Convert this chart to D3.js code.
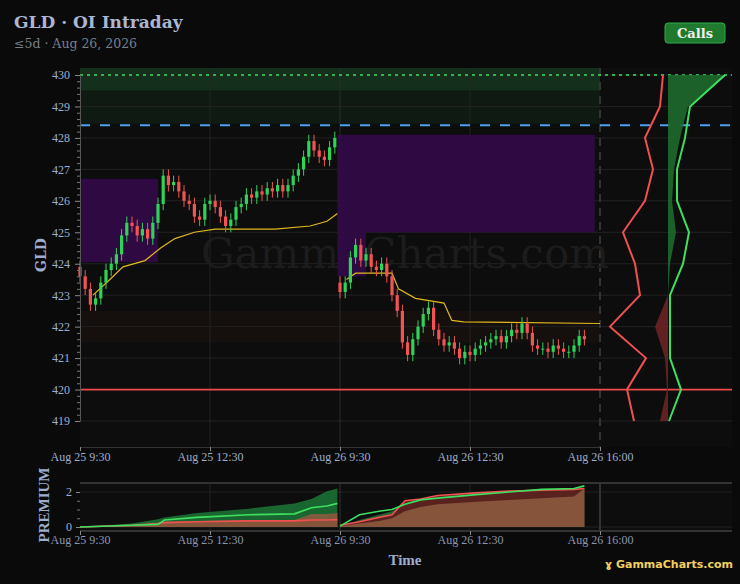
<!DOCTYPE html>
<html><head><meta charset="utf-8">
<script src="https://cdn.jsdelivr.net/npm/d3@7"></script>
<style>body{margin:0;background:#0a0a0a}svg{display:block}</style>
</head><body><svg id="c" width="740" height="584"></svg>
<script>
const timeTicks=["Aug 25 9:30","Aug 25 12:30","Aug 26 9:30","Aug 26 12:30","Aug 26 16:00"];
const priceTicks=[419,420,421,422,423,424,425,426,427,428,429,430];
const day1Open=423.9, day1Start=0, day2Open=423.4, day2Start=2.0, step=0.04;
const day1Close=[423.6,423.2,422.7,422.9,423.4,423.8,424.0,424.3,424.9,425.3,425.2,424.9,425.1,424.8,425.3,425.9,426.8,426.5,426.6,426.3,426.0,425.9,425.5,425.4,425.9,426.0,425.8,425.5,425.2,425.4,425.8,425.9,426.2,426.1,426.3,426.2,426.4,426.3,426.5,426.3,426.5,426.8,427.0,427.4,427.9,427.6,427.4,427.3,427.7,428.0];
const day2Close=[423.1,423.4,424.2,424.6,424.1,424.3,423.9,423.8,424.0,423.6,423.0,422.5,421.5,421.1,421.6,422.0,422.4,422.6,421.9,421.6,421.4,421.5,421.3,421.0,421.2,421.1,421.3,421.4,421.5,421.6,421.7,421.5,421.7,421.9,421.8,422.1,421.8,421.4,421.3,421.3,421.2,421.4,421.3,421.2,421.2,421.4,421.7,421.6];
const vwap1=[[0.1,423.0],[0.23,423.5],[0.33,423.9],[0.5,424.1],[0.62,424.5],[0.73,424.8],[0.88,425.0],[1.04,425.1],[1.5,425.1],[1.77,425.2],[1.9,425.35],[1.98,425.6]];
const vwap2=[[2.05,423.5],[2.12,423.7],[2.4,423.7],[2.45,423.2],[2.58,422.9],[2.8,422.75],[2.86,422.2],[2.95,422.15],[4.0,422.1]];
const zones=[[0,0.6,424.05,426.7],[1.98,3.96,425.0,428.1],[1.98,2.2,423.6,425.0]];
const profPrice=[430,429,428,427,426,425,424,423,422,421,420,419];
const putsOI=[-5,-8,-23,-15,-23,-45,-33,-28,-58,-22,-41,-34];
const callsOI=[57,22,17,9,9,21,15,2,2,2,13,1];
const netOI=[57,20,12,6,4,8,2,0,-13,-3,-1,-8];
const premT=[0,0.4,0.6,0.65,0.9,1.3,1.65,1.78,1.9,1.98];
const premCallsArea=[0,0.2,0.45,0.55,0.8,1.05,1.35,1.6,2.05,2.2];
const premCalls=[0,0.1,0.15,0.4,0.55,0.7,0.75,1.1,1.2,1.35];
const premPuts=[0,0.1,0.2,0.25,0.3,0.35,0.35,0.4,0.4,0.42];
const premNet=[0,0.1,0.25,0.3,0.35,0.38,0.4,0.75,0.75,0.8];
const prem2T=[2.0,2.15,2.3,2.4,2.5,2.62,2.75,3.05,3.3,3.55,3.8,3.88];
const prem2CallsArea=[0,0.4,0.7,0.9,1.3,1.5,1.6,1.8,2.0,2.1,2.15,2.2];
const prem2Calls=[0.05,0.7,0.9,1.0,1.3,1.55,1.65,1.85,2.0,2.15,2.2,2.35];
const prem2Puts=[0.1,0.3,0.55,0.7,1.5,1.6,1.8,1.95,2.05,2.1,2.15,2.2];
const prem2Net=[0.05,0.2,0.35,0.5,0.9,1.15,1.3,1.45,1.55,1.65,1.75,2.2];

const svg=d3.select("#c");
const W=740,H=584;
svg.append("rect").attr("width",W).attr("height",H).attr("fill","#0a0a0a");
const x=d3.scaleLinear().domain([0,4]).range([80,600]);
const y=d3.scaleLinear().domain([419,430]).range([421,75]);
const px=d3.scaleLinear().domain([-60,60]).range([608,728]);
const TOP=68,BOT=447,L=80,R=732;
const serif="'Liberation Serif',serif";
svg.append("rect").attr("x",L).attr("y",TOP).attr("width",R-L).attr("height",BOT-TOP).attr("fill","#0d0d0d");
svg.append("rect").attr("x",L).attr("y",TOP).attr("width",600-L).attr("height",y(429.5)-TOP).attr("fill","#14301c");
svg.append("rect").attr("x",L).attr("y",y(429.5)).attr("width",600-L).attr("height",y(428.45)-y(429.5)).attr("fill","#0f1a12");
svg.append("rect").attr("x",L).attr("y",y(422.5)).attr("width",600-L).attr("height",y(421.5)-y(422.5)).attr("fill","#150f0e");
priceTicks.forEach(p=>svg.append("line").attr("x1",L).attr("x2",R).attr("y1",y(p)).attr("y2",y(p)).attr("stroke","#222").attr("stroke-width",1));
[1,3].forEach(t=>svg.append("line").attr("x1",x(t)).attr("x2",x(t)).attr("y1",TOP).attr("y2",BOT).attr("stroke","#222"));
svg.append("line").attr("x1",x(2)).attr("x2",x(2)).attr("y1",TOP).attr("y2",BOT).attr("stroke","#2a2a2a");
svg.append("line").attr("x1",x(4)).attr("x2",x(4)).attr("y1",TOP).attr("y2",BOT).attr("stroke","#333").attr("stroke-width",2).attr("stroke-dasharray","8,6");
svg.append("text").attr("x",405).attr("y",268).attr("text-anchor","middle").attr("font-family","'DejaVu Serif',serif").attr("font-size",42).attr("fill","#1c1c1c").text("GammaCharts.com");
zones.forEach(z=>svg.append("rect").attr("x",x(z[0])).attr("width",x(z[1])-x(z[0])).attr("y",y(z[3])).attr("height",y(z[2])-y(z[3])).attr("fill","#310a45").attr("opacity",0.95));
const vl=d3.line().x(d=>x(d[0])).y(d=>y(d[1]));
[vwap1,vwap2].forEach(v=>svg.append("path").attr("d",vl(v)).attr("fill","none").attr("stroke","#e0b81c").attr("stroke-width",1.2));
function candles(open,start,closes){
  let o=open;
  closes.forEach((c,i)=>{
    const t=start+i*step, cx=x(t), up=c>=o;
    const col=up?"#2fd35a":"#f25454";
    const hi=Math.max(o,c)+0.2, lo=Math.min(o,c)-0.2;
    svg.append("line").attr("x1",cx).attr("x2",cx).attr("y1",y(hi)).attr("y2",y(lo)).attr("stroke",col).attr("stroke-width",1);
    svg.append("rect").attr("x",cx-1.6).attr("width",3.2).attr("y",y(Math.max(o,c))).attr("height",Math.max(1,Math.abs(y(o)-y(c)))).attr("fill",col);
    o=c;
  });
}
candles(day1Open,day1Start,day1Close);
candles(day2Open,day2Start,day2Close);
svg.append("line").attr("x1",L).attr("x2",R).attr("y1",y(430)).attr("y2",y(430)).attr("stroke","#3ee060").attr("stroke-width",1.3).attr("stroke-dasharray","3,4");
svg.append("line").attr("x1",L).attr("x2",R).attr("y1",y(428.4)).attr("y2",y(428.4)).attr("stroke","#4ea0f0").attr("stroke-width",2).attr("stroke-dasharray","10,10");
svg.append("line").attr("x1",L).attr("x2",R).attr("y1",y(420)).attr("y2",y(420)).attr("stroke","#f04a4a").attr("stroke-width",1.8);
const pd=profPrice.map((p,i)=>({p,put:putsOI[i],call:callsOI[i],net:netOI[i]}));
const area=d3.area().y(d=>y(d.p)).x0(px(0)).x1(d=>px(Math.max(0,d.net)));
svg.append("path").attr("d",area(pd)).attr("fill","#1e6a2e").attr("opacity",0.9);
const area2=d3.area().y(d=>y(d.p)).x0(px(0)).x1(d=>px(Math.min(0,d.net)));
svg.append("path").attr("d",area2(pd)).attr("fill","#6a2424").attr("opacity",0.9);
svg.append("path").attr("d",d3.line().y(d=>y(d.p)).x(d=>px(d.put))(pd)).attr("fill","none").attr("stroke","#f05050").attr("stroke-width",2);
svg.append("path").attr("d",d3.line().y(d=>y(d.p)).x(d=>px(d.call))(pd)).attr("fill","none").attr("stroke","#3ee060").attr("stroke-width",2);
const ya=svg.append("g").attr("transform",`translate(${L},0)`).call(d3.axisLeft(y).tickValues(priceTicks).tickFormat(d3.format("d")).tickSize(5));
ya.select(".domain").attr("stroke","#555");
ya.selectAll("line").attr("stroke","#888");
ya.selectAll("text").attr("fill","#9fadcc").attr("font-family",serif).attr("font-size",12).attr("x",-10);
const minor=d3.range(419,430.01,0.2).filter(v=>Math.abs(v-Math.round(v))>0.05);
svg.append("g").attr("transform",`translate(${L},0)`).call(d3.axisLeft(y).tickValues(minor).tickFormat("").tickSize(3)).call(g=>{g.select(".domain").remove();g.selectAll("line").attr("stroke","#777");});
const xa=svg.append("g").attr("transform",`translate(0,${BOT})`).call(d3.axisBottom(x).tickValues([0,1,2,3,4]).tickFormat((d,i)=>timeTicks[i]).tickSize(4));
xa.select(".domain").attr("stroke","#333");
xa.selectAll("line").attr("stroke","#888");
xa.selectAll("text").attr("fill","#9fadcc").attr("font-family",serif).attr("font-size",12).attr("dy","0.55em");
svg.append("text").attr("transform","translate(46,255) rotate(-90)").attr("text-anchor","middle").attr("font-family","'DejaVu Serif',serif").attr("font-weight","bold").attr("font-size",14).attr("fill","#9fadcc").text("GLD");
svg.append("text").attr("x",14).attr("y",28).attr("font-family","'DejaVu Serif',serif").attr("font-weight","bold").attr("font-size",17).attr("fill","#aab6d2").text("GLD · OI Intraday");
svg.append("text").attr("x",14).attr("y",48).attr("font-family","'DejaVu Serif',serif").attr("font-size",12.5).attr("fill","#77808f").text("≤5d · Aug 26, 2026");
svg.append("rect").attr("x",665).attr("y",23).attr("width",60).attr("height",20).attr("rx",3).attr("fill","#1f7a30").attr("stroke","#33a84b");
svg.append("text").attr("x",695).attr("y",38).attr("text-anchor","middle").attr("font-family","'DejaVu Serif',serif").attr("font-weight","bold").attr("font-size",13).attr("fill","#f0f0f0").text("Calls");
const py=d3.scaleLinear().domain([0,2]).range([527,492]);
const pT=483,pB=531;
svg.append("rect").attr("x",L).attr("y",pT).attr("width",R-L).attr("height",pB-pT).attr("fill","#0d0d0d");
svg.append("line").attr("x1",L).attr("x2",R).attr("y1",pT).attr("y2",pT).attr("stroke","#333").attr("stroke-width",2);
svg.append("line").attr("x1",L).attr("x2",R).attr("y1",pB).attr("y2",pB).attr("stroke","#333").attr("stroke-width",2);
[0,2].forEach(v=>svg.append("line").attr("x1",L).attr("x2",R).attr("y1",py(v)).attr("y2",py(v)).attr("stroke","#222"));
[1,3].forEach(t=>svg.append("line").attr("x1",x(t)).attr("x2",x(t)).attr("y1",pT).attr("y2",pB).attr("stroke","#222"));
svg.append("line").attr("x1",x(2)).attr("x2",x(2)).attr("y1",pT).attr("y2",pB).attr("stroke","#333");
svg.append("line").attr("x1",x(4)).attr("x2",x(4)).attr("y1",pT).attr("y2",pB).attr("stroke","#333").attr("stroke-width",2);
function prem(T,ca,c,p,n){
  const d=T.map((t,i)=>({t,ca:ca[i],c:c[i],p:p[i],n:n[i]}));
  const a=k=>d3.area().x(e=>x(e.t)).y0(py(0)).y1(e=>py(e[k]));
  svg.append("path").attr("d",a("ca")(d)).attr("fill","#1a6630");
  svg.append("path").attr("d",a("p")(d)).attr("fill","#5e1f1f").attr("opacity",0.95);
  svg.append("path").attr("d",a("n")(d)).attr("fill","#8a5a3e").attr("opacity",0.9);
  svg.append("path").attr("d",d3.line().x(e=>x(e.t)).y(e=>py(e.p))(d)).attr("fill","none").attr("stroke","#f05050").attr("stroke-width",1.6);
  svg.append("path").attr("d",d3.line().x(e=>x(e.t)).y(e=>py(e.c))(d)).attr("fill","none").attr("stroke","#3ee060").attr("stroke-width",1.6);
}
prem(premT,premCallsArea,premCalls,premPuts,premNet);
prem(prem2T,prem2CallsArea,prem2Calls,prem2Puts,prem2Net);
const pya=svg.append("g").attr("transform",`translate(${L},0)`).call(d3.axisLeft(py).tickValues([0,2]).tickFormat(d3.format("d")).tickSize(4));
pya.select(".domain").remove();pya.selectAll("line").attr("stroke","#888");
pya.selectAll("text").attr("fill","#9fadcc").attr("font-family",serif).attr("font-size",12).attr("x",-8);
svg.append("g").attr("transform",`translate(${L},0)`).call(d3.axisLeft(py).tickValues([0.5,1,1.5]).tickFormat("").tickSize(3)).call(g=>{g.select(".domain").remove();g.selectAll("line").attr("stroke","#777");});
const pxa=svg.append("g").attr("transform",`translate(0,${pB})`).call(d3.axisBottom(x).tickValues([0,1,2,3,4]).tickFormat((d,i)=>timeTicks[i]).tickSize(4));
pxa.select(".domain").remove();pxa.selectAll("line").attr("stroke","#888");
pxa.selectAll("text").attr("fill","#8a96b0").attr("font-family",serif).attr("font-size",12).attr("dy","0.5em");
svg.append("text").attr("transform","translate(49,505) rotate(-90)").attr("text-anchor","middle").attr("font-family","'Liberation Serif',serif").attr("font-weight","bold").attr("font-size",15).attr("fill","#9fadcc").text("PREMIUM");
svg.append("text").attr("x",405).attr("y",565).attr("text-anchor","middle").attr("font-family","'Liberation Serif',serif").attr("font-weight","bold").attr("font-size",15).attr("fill","#9fadcc").text("Time");
svg.append("text").attr("x",733).attr("y",568).attr("text-anchor","end").attr("font-family","'DejaVu Sans',sans-serif").attr("font-weight","bold").attr("font-size",11).attr("fill","#f0d060").text("ɣ GammaCharts.com");
</script></body></html>
